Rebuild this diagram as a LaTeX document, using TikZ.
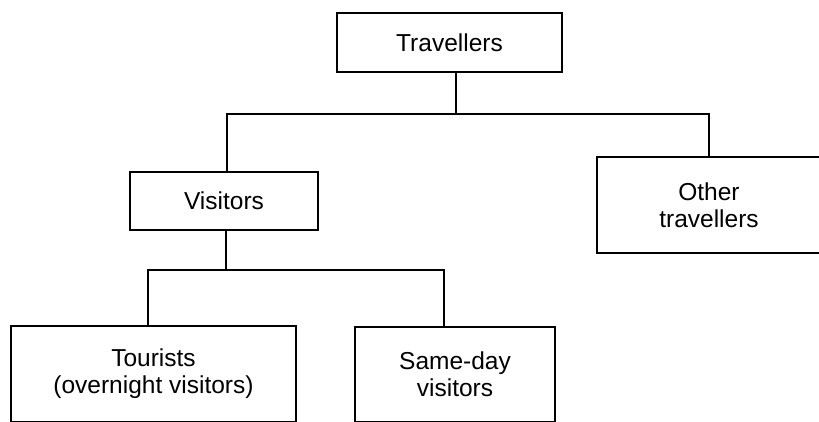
\documentclass[tikz,border=0pt]{standalone}
\usepackage{fontspec}
\setmainfont{Liberation Sans}
\usepackage{tikz}
\usetikzlibrary{positioning}

\begin{document}
\begin{tikzpicture}[x=1pt,y=-1pt]
			\tikzstyle{Box}		= [rectangle, draw, line width=1.8pt, inner sep=0pt, align=center, font=\fontsize{24.5}{27}\selectfont]
			\tikzstyle{Link}	= [line width=1.8pt]

			\useasboundingbox (0,0) rectangle (819,421);

			\node (trav) at (449.5,42.5) [Box][minimum width=225, minimum height=59] {Travellers};
			\node (vis) at (224,201) [Box][minimum width=188, minimum height=58] {Visitors};
			\node (oth) at (709,205) [Box][minimum width=224, minimum height=96] {Other\\travellers};
			\node (tour) at (153.5,374) [Box][minimum width=285, minimum height=96] {Tourists\\(overnight visitors)};
			\node (same) at (455,374.5) [Box][minimum width=200, minimum height=95] {Same-day\\visitors};

			\coordinate (j1) at (456,114);
			\coordinate (b1) at (227,114);
			\coordinate (b2) at (709,114);
			\coordinate (j2) at (226,270);
			\coordinate (b3) at (148,270);
			\coordinate (b4) at (444,270);

			\draw [-] (j1 |- trav.south) to (j1) [Link];
			\draw [-] (b1 |- vis.north) -- (b1) -- (b2) -- (b2 |- oth.north) [Link];
			\draw [-] (j2 |- vis.south) to (j2) [Link];
			\draw [-] (b3 |- tour.north) -- (b3) -- (b4) -- (b4 |- same.north) [Link];
		\end{tikzpicture}
\end{document}
